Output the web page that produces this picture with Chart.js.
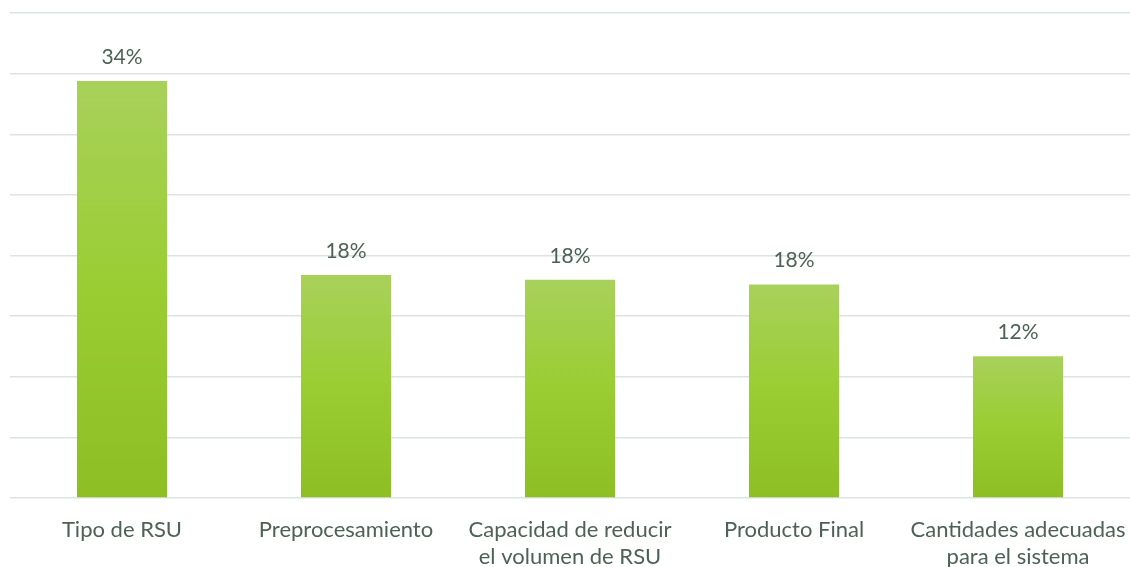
<!DOCTYPE html>
<html>
<head>
<meta charset="utf-8">
<script src="https://cdn.jsdelivr.net/npm/chart.js@4.4.1/dist/chart.umd.min.js"></script>
<style>
  html, body { margin: 0; padding: 0; background: #ffffff; }
  #wrap { width: 1130px; height: 567px; }
</style>
</head>
<body>
<div id="wrap"><canvas id="barCanvas"></canvas></div>
<script>
// categories (multi-line labels)
const categorias = [
    'Tipo de RSU',
    'Preprocesamiento',
    ['Capacidad de reducir', 'el volumen de RSU'],
    'Producto Final',
    ['Cantidades adecuadas', 'para el sistema']
];
// percentages
const porcentajes = [34.4, 18.4, 18.0, 17.6, 11.7];
// y axis: 0..40, gridlines every 5
const ejeMax = 40;
const ejePaso = 5;

const colorTexto = '#4d6255';

// gradient per bar: lighter at the top, darker at the base
function degradado(context) {
    const chart = context.chart;
    const area = chart.chartArea;
    if (!area || context.type !== 'data') return '#9acd32';
    const y = chart.scales.y;
    const top = y.getPixelForValue(context.raw);
    const base = y.getPixelForValue(0);
    const g = chart.ctx.createLinearGradient(0, top, 0, base);
    g.addColorStop(0, '#a8d15b');
    g.addColorStop(0.5, '#9acd32');
    g.addColorStop(1, '#8dbf25');
    return g;
}

// labels above the bars
const etiquetas = {
    id: 'etiquetas',
    afterDatasetsDraw(chart) {
        const ctx = chart.ctx;
        const meta = chart.getDatasetMeta(0);
        ctx.save();
        ctx.font = '21px Lato, "Open Sans", sans-serif';
        ctx.fillStyle = colorTexto;
        ctx.textAlign = 'center';
        ctx.textBaseline = 'middle';
        meta.data.forEach((bar, i) => {
            ctx.fillText(Math.round(porcentajes[i]) + '%', bar.x, bar.y - 24);
        });
        ctx.restore();
    }
};

const ctx = document.getElementById('barCanvas').getContext('2d');
new Chart(ctx, {
    type: 'bar',
    data: {
        labels: categorias,
        datasets: [{
            data: porcentajes,
            backgroundColor: degradado,
            borderWidth: 0,
            barPercentage: 0.402,
            categoryPercentage: 1
        }]
    },
    options: {
        responsive: true,
        maintainAspectRatio: false,
        animation: false,
        layout: { padding: { top: 13, left: 10, right: 0, bottom: 0 } },
        plugins: {
            legend: { display: false },
            tooltip: { enabled: false }
        },
        scales: {
            x: {
                grid: { display: false, drawTicks: false },
                border: { display: false },
                ticks: {
                    color: colorTexto,
                    font: { family: 'Lato, "Open Sans", sans-serif', size: 22, lineHeight: 1.23 },
                    padding: 18,
                    maxRotation: 0,
                    autoSkip: false
                },
                afterFit(scale) {
                    scale.height = 69;
                    scale.paddingLeft = 0;
                    scale.paddingRight = 0;
                }
            },
            y: {
                min: 0,
                max: ejeMax,
                ticks: { display: false, stepSize: ejePaso },
                border: { display: false },
                grid: { color: '#dde3e0', lineWidth: 1.5, drawTicks: false },
                afterFit(scale) { scale.width = 0; }
            }
        }
    },
    plugins: [etiquetas]
});
</script>
</body>
</html>
